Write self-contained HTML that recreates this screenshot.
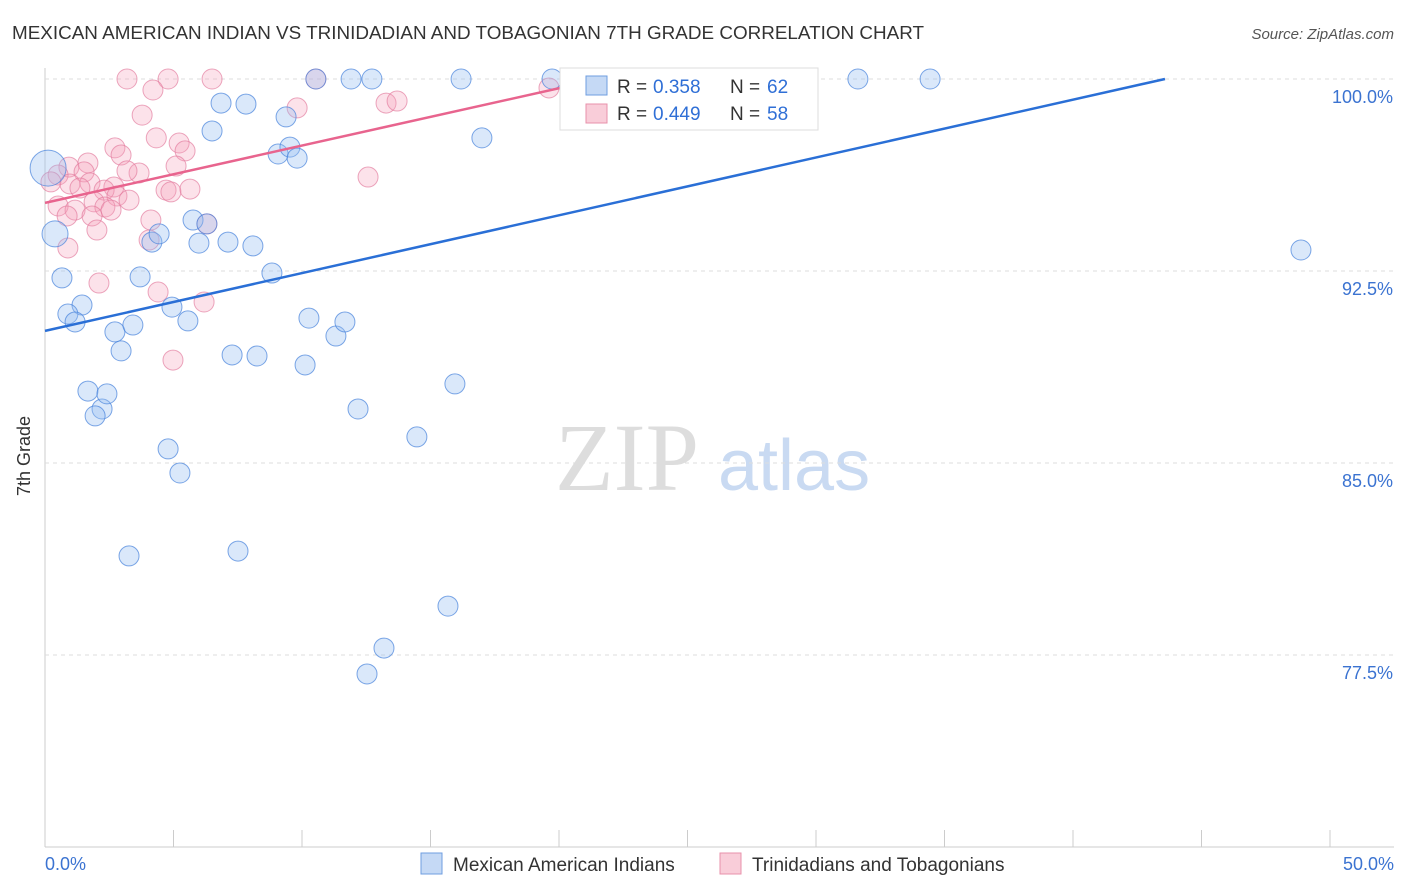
<!DOCTYPE html>
<html><head><meta charset="utf-8"><style>
body{margin:0;background:#fff;font-family:"Liberation Sans",sans-serif}
svg{display:block}
</style></head><body>
<svg id="chart" width="1406" height="892">
<text x="12" y="39" font-size="18" fill="#333" textLength="912" lengthAdjust="spacingAndGlyphs">MEXICAN AMERICAN INDIAN VS TRINIDADIAN AND TOBAGONIAN 7TH GRADE CORRELATION CHART</text>
<text x="1394" y="39" font-size="15" fill="#555" text-anchor="end" font-style="italic">Source: ZipAtlas.com</text>
<text x="30" y="456" font-size="18" fill="#333" text-anchor="middle" transform="rotate(-90 30 456)">7th Grade</text>
<text x="555" y="490" font-size="96" fill="#ddd" font-family="Liberation Serif,serif">ZIP</text>
<text x="718" y="490" font-size="72" fill="#c9daf2">atlas</text>
<g id="grid"></g><g id="pts"></g><g id="lines"></g>
<g>
<rect x="560" y="68" width="258" height="62" fill="#fff" stroke="#ddd"/>
<rect x="586" y="76" width="21" height="19" fill="#c5d9f5" stroke="#6f9ee0"/>
<text x="617" y="93" font-size="19" fill="#333">R = </text>
<text x="653" y="93" font-size="19" fill="#2f6fd6">0.358</text>
<text x="730" y="93" font-size="19" fill="#333">N = </text>
<text x="767" y="93" font-size="19" fill="#2f6fd6">62</text>
<rect x="586" y="104" width="21" height="19" fill="#f9cdd9" stroke="#e891ab"/>
<text x="617" y="120" font-size="19" fill="#333">R = </text>
<text x="653" y="120" font-size="19" fill="#2f6fd6">0.449</text>
<text x="730" y="120" font-size="19" fill="#333">N = </text>
<text x="767" y="120" font-size="19" fill="#2f6fd6">58</text>
</g>
<g>
<rect x="421" y="853" width="21" height="21" fill="#c5d9f5" stroke="#6f9ee0"/>
<text x="453" y="871" font-size="19" fill="#333">Mexican American Indians</text>
<rect x="720" y="853" width="21" height="21" fill="#f9cdd9" stroke="#e891ab"/>
<text x="752" y="871" font-size="19" fill="#333">Trinidadians and Tobagonians</text>
</g>
<text x="45" y="870" font-size="18" fill="#3b73d1">0.0%</text>
<text x="1394" y="870" font-size="18" fill="#3b73d1" text-anchor="end">50.0%</text>
</svg>
<script>
const yTicks=[100,92.5,85,77.5];
const yTickLabels=["100.0%","92.5%","85.0%","77.5%"];
const blueX=[0.12,0.39,0.66,1.44,0.89,1.17,1.67,2.22,1.95,2.41,2.72,2.96,3.42,3.70,4.16,4.44,4.94,5.56,5.76,5.99,6.30,6.50,6.85,7.12,7.28,7.82,8.09,8.25,8.83,9.07,9.38,9.53,9.81,10.12,10.27,10.54,11.32,11.67,11.91,12.18,12.53,12.72,13.19,14.47,15.68,15.95,16.19,17.00,19.73,21.71,26.19,29.26,31.63,34.44,48.87,3.27,4.79,5.25,7.51];
const blueY=[96.52,93.95,92.23,91.17,90.82,90.51,87.81,87.11,86.84,87.70,90.12,89.38,90.39,92.27,93.63,93.95,91.09,90.55,94.49,93.59,94.34,97.97,99.06,93.63,89.22,99.02,93.48,89.18,92.42,97.07,98.52,97.34,96.91,88.83,90.66,100,89.96,90.51,100,87.11,76.76,100,77.77,86.02,79.41,88.09,100,97.70,100,100,100,100,100,100,93.32,81.37,85.55,84.61,81.56];
const blueR=[18,13,10,10,10,10,10,10,10,10,10,10,10,10,10,10,10,10,10,10,10,10,10,10,10,10,10,10,10,10,10,10,10,10,10,10,10,10,10,10,10,10,10,10,10,10,10,10,10,10,10,10,10,10,10,10,10,10,10];
const pinkX=[3.19,4.79,6.50,10.54,4.20,9.81,13.27,13.70,3.78,4.33,5.22,5.45,2.72,2.96,1.67,0.93,5.10,12.57,3.66,3.19,1.52,0.51,0.23,0.97,1.75,2.68,2.30,1.36,4.71,4.90,5.64,2.80,3.27,1.91,0.51,1.17,2.33,2.57,0.86,1.83,4.12,6.30,2.02,4.05,0.89,2.10,4.40,6.19,4.98,19.61,28.21];
const pinkY=[100,100,100,100,99.57,98.87,99.06,99.14,98.59,97.70,97.50,97.19,97.31,97.03,96.72,96.56,96.60,96.17,96.33,96.41,96.37,96.25,95.98,95.90,95.94,95.78,95.66,95.74,95.66,95.59,95.70,95.43,95.27,95.20,95.04,94.88,95.00,94.88,94.65,94.65,94.49,94.34,94.10,93.71,93.40,92.03,91.68,91.29,89.02,99.65,100];
const blueFit=[90.16,0.2258];
const pinkFit=[95.16,0.224];
const X=v=>45+v/50*1285;
const Y=v=>79+(100-v)/7.5*192;
const NS="http://www.w3.org/2000/svg";
function mk(t,a,p){const e=document.createElementNS(NS,t);for(const k in a)e.setAttribute(k,a[k]);p.appendChild(e);return e;}
const grid=document.getElementById('grid');
const ax=mk('line',{x1:45,x2:45,y1:68,y2:847,stroke:'#ccc'},grid);


const bx=mk('line',{x1:45,x2:1394,y1:847,y2:847,stroke:'#ccc'},grid);


for(let i=0;i<=10;i++){const t=mk('line',{x1:45+i*128.5,x2:45+i*128.5,y1:830,y2:847,stroke:'#ccc'},grid);

}
yTicks.forEach((v,i)=>{const l=mk('line',{x1:45,x2:1394,y1:Y(v),y2:Y(v),stroke:'#ddd','stroke-dasharray':'4,4'},grid);


const t=mk('text',{x:1393,y:Y(v)+24,'font-size':18,fill:'#3b73d1','text-anchor':'end'},grid);t.textContent=yTickLabels[i];

});
const pts=document.getElementById('pts');
pinkX.forEach((x,i)=>{const c=mk('circle',{cx:X(x),cy:Y(pinkY[i]),r:10,fill:'rgba(244,160,185,0.3)',stroke:'rgba(226,120,155,0.65)'},pts);

});
blueX.forEach((x,i)=>{const c=mk('circle',{cx:X(x),cy:Y(blueY[i]),r:blueR[i],fill:'rgba(150,190,240,0.35)',stroke:'rgba(70,130,220,0.7)'},pts);

});
const lines=document.getElementById('lines');
function fit(f,col,name){const xe=Math.min(50,(100-f[0])/f[1]);const l=mk('line',{x1:X(0),y1:Y(f[0]),x2:X(xe),y2:Y(f[0]+f[1]*xe),stroke:col,'stroke-width':2.5},lines);

}
fit(blueFit,'#2a6fd6','blue-trend-line');
fit(pinkFit,'#e8648e','pink-trend-line');
</script>
</body></html>
